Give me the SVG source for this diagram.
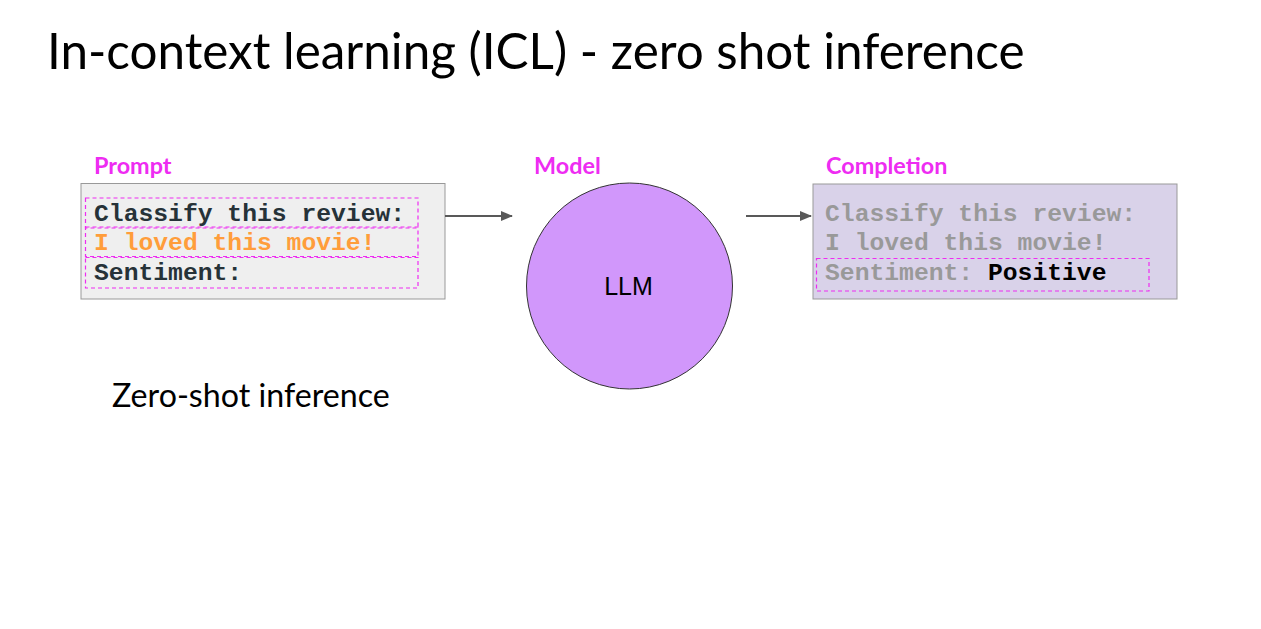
<svg xmlns="http://www.w3.org/2000/svg" width="1261" height="629" viewBox="0 0 1261 629">
<defs>
<marker id="arr" viewBox="0 0 12 10" refX="11" refY="5" markerWidth="13" markerHeight="10" orient="auto" markerUnits="userSpaceOnUse">
<path d="M0,0 L12,5 L0,10 z" fill="#595959"/>
</marker>
<style>
.title{font-family:Lato,"Open Sans",sans-serif;font-size:49.4px;fill:#000}
.lbl{font-family:Lato,"Open Sans",sans-serif;font-weight:bold;font-size:23.4px;fill:#ee2cf2}
.mono{font-family:"Liberation Mono","DejaVu Sans Mono",monospace;font-weight:bold;font-size:24.7px}
.dash{fill:none;stroke:#ee2cf2;stroke-width:1.2;stroke-dasharray:4,3}
.conn{stroke:#595959;stroke-width:2.2;fill:none}
</style>
</defs>
<rect width="1261" height="629" fill="#fff"/>
<text class="title" x="47" y="69">In-context learning (ICL) - zero shot inference</text>
<g id="prompt">
<text class="lbl" x="94" y="174">Prompt</text>
<rect x="81" y="183.5" width="364" height="115.5" fill="#efefef" stroke="#999" stroke-width="1"/>
<rect class="dash" x="85.5" y="198" width="332.5" height="30"/>
<rect class="dash" x="85.5" y="227" width="332.5" height="29.5"/>
<rect class="dash" x="85.5" y="257.5" width="332.5" height="30.5"/>
<text class="mono" x="94" y="221" fill="#263238">Classify this review:</text>
<text class="mono" x="94" y="250" fill="#ff9d3b">I loved this movie!</text>
<text class="mono" x="94" y="280" fill="#263238">Sentiment:</text>
</g>
<g id="model">
<text class="lbl" x="534" y="174">Model</text>
<circle cx="629.5" cy="286" r="103" fill="#d197fb" stroke="#333" stroke-width="1"/>
<text x="628.5" y="295" text-anchor="middle" font-family="Liberation Sans,Arial,sans-serif" font-size="25" fill="#000">LLM</text>
</g>
<g id="completion">
<text class="lbl" x="826" y="174">Completion</text>
<rect x="813" y="184" width="364" height="115" fill="#d9d2e9" stroke="#999" stroke-width="1"/>
<rect class="dash" x="816.5" y="258.5" width="332.5" height="32.5"/>
<text class="mono" x="825" y="221" fill="#999">Classify this review:</text>
<text class="mono" x="825" y="250" fill="#999">I loved this movie!</text>
<text class="mono" x="825" y="280"><tspan fill="#999">Sentiment: </tspan><tspan fill="#000">Positive</tspan></text>
</g>
<g id="caption">
<text x="112" y="407" font-family="Lato,'Open Sans',sans-serif" font-size="32.2" fill="#000">Zero-shot inference</text>
</g>
<g id="connectors">
<line class="conn" x1="445" y1="216" x2="512" y2="216" marker-end="url(#arr)"/>
<line class="conn" x1="746" y1="216" x2="811" y2="216" marker-end="url(#arr)"/>
</g>
</svg>
